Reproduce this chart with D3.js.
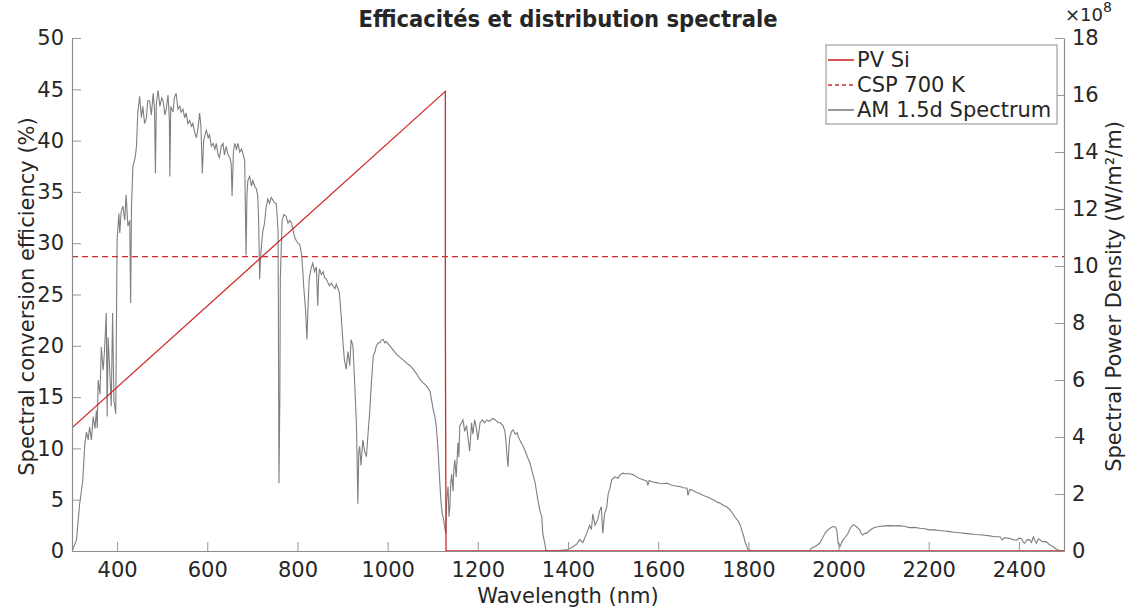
<!DOCTYPE html>
<html><head><meta charset="utf-8">
<script src="https://cdn.jsdelivr.net/npm/d3@7"></script>
<style>
html,body{margin:0;padding:0;background:#fff;}
text{font-family:"DejaVu Sans",sans-serif;fill:#262626;}
</style></head>
<body><svg id="c" width="1129" height="610"></svg>
<script>
// ---- data ----
const title = "Efficacités et distribution spectrale";
const xLabel = "Wavelength (nm)";
const yLeftLabel = "Spectral conversion efficiency (%)";
const yRightLabel = "Spectral Power Density (W/m²/m)";
const legendLabels = ["PV Si", "CSP 700 K", "AM 1.5d Spectrum"];
const xTicks = [400,600,800,1000,1200,1400,1600,1800,2000,2200,2400];
const yLeftTicks = [0,5,10,15,20,25,30,35,40,45,50];
const yRightTicks = [0,2,4,6,8,10,12,14,16,18];

// PV Si efficiency (%)
const pvWl  = [300, 1128, 1128, 1129.5, 2500];
const pvEff = [12, 44.8, 22.3, 0, 0];
// CSP 700 K efficiency (%)
const cspWl  = [300, 2500];
const cspEff = [28.7, 28.7];

// AM 1.5d spectrum, units of 1e8 W/m^2/m
const specWl = [300,310,317,324,328,332,336,339,343,347,351,354,356,358,362,365,369,372,376,378,380,383,387,390,393,397,
400,404,406,409,413,417,420,424,428,430,432,435,440,443,446,450,454,457,461,465,468,472,476,480,483,485,487,491,495,499,
502,506,509,513,516,517,519,524,527,531,535,539,542,546,550,553,557,561,565,568,572,576,580,583,586,589,592,595,598,
602,605,609,613,617,620,624,627,631,635,638,642,646,650,653,655,658,661,665,668,672,676,680,683,686,688,690,694,698,
701,705,709,712,714,716,719,723,727,730,734,738,742,746,750,753,757,759,761,762,766,770,775,779,783,787,790,794,797,
801,805,809,812,814,818,821,824,826,830,834,838,842,845,847,849,853,857,860,864,868,871,875,879,883,886,890,893,897,
901,904,908,912,916,919,923,927,931,934,936,938,941,945,949,953,956,960,964,968,972,975,979,983,986,990,994,997,
1005,1012,1020,1027,1035,1042,1050,1057,1065,1072,1079,1086,1094,1101,1105,1108,1112,1115,1118,1121,1123,1126,1129,
1131,1134,1136,1138,1140,1142,1145,1147,1149,1152,1156,1158,1160,1164,1167,1171,1175,1178,1182,1186,1189,1193,1197,
1200,1205,1210,1215,1220,1226,1233,1239,1245,1250,1256,1260,1262,1265,1267,1269,1271,1275,1278,1283,1287,1290,1293,
1298,1304,1310,1316,1322,1327,1333,1338,1342,1344,1348,1351,1356,1380,1400,1411,1420,1426,1433,1441,1448,1452,1455,
1460,1466,1470,1474,1477,1481,1486,1489,1493,1497,1504,1511,1516,1522,1528,1533,1539,1544,1550,1559,1567,1575,1577,
1580,1588,1596,1604,1611,1619,1626,1633,1640,1648,1656,1664,1666,1670,1677,1685,1692,1700,1708,1715,1722,1730,1737,
1745,1752,1759,1766,1772,1777,1782,1786,1790,1792,1796,1799,1805,1810,1900,1936,1940,1947,1952,1958,1964,1970,1975,
1981,1988,1993,1996,1999,2003,2007,2010,2016,2021,2026,2032,2036,2039,2043,2047,2050,2054,2058,2062,2069,2076,2084,
2091,2102,2113,2124,2135,2147,2158,2169,2180,2191,2202,2213,2224,2235,2246,2257,2269,2280,2291,2302,2313,2324,2335,
2347,2358,2363,2369,2380,2387,2395,2400,2406,2410,2413,2418,2424,2428,2432,2436,2439,2443,2446,2452,2461,2468,2476,
2483,2487,2494,2500];
const specVal = [0,0.39,1.66,2.48,3.67,4.18,3.9,4.36,3.9,4.72,4.3,4.93,4.32,6.0,5.5,7.16,6.34,7.0,8.35,4.72,7.5,6.59,5.08,8.35,5.29,4.82,
10.9,11.84,11.16,11.9,12.1,11.6,12.5,11.4,11.6,8.7,12.1,13.5,13.8,14.2,15.4,15.95,15.2,15.6,15.0,15.2,15.8,15.8,15.3,16.06,15.5,13.25,15.7,16.16,15.6,15.9,
15.8,15.3,15.5,16.0,15.1,13.14,15.6,15.4,15.9,16.06,15.5,15.6,15.4,15.5,15.2,15.37,15.0,15.1,14.9,15.0,14.7,14.5,14.9,15.37,14.9,13.25,14.4,14.6,14.76,
14.5,14.6,14.2,14.3,14.1,14.3,13.9,13.8,14.2,14.3,13.9,14.2,13.9,13.8,13.6,12.46,14.0,14.3,14.1,14.3,14.0,14.1,13.9,13.7,10.37,12.5,13.0,13.14,12.8,
13.0,12.8,12.7,12.46,11.6,9.54,10.5,11.2,11.5,12.0,12.35,12.2,12.4,12.3,12.2,12.2,11.27,2.38,5.5,9.54,11.6,11.8,11.74,11.5,11.6,11.5,11.27,11.0,10.9,
10.8,10.76,10.44,9.8,9.25,8.46,7.42,8.8,9.54,9.9,10.1,9.8,9.97,8.6,9.6,9.9,9.7,9.8,9.6,9.54,9.4,9.3,9.4,9.3,9.2,9.36,9.2,9.07,8.24,
7.31,6.73,6.37,7.0,6.5,7.42,7.2,5.87,4.36,1.66,3.5,3.67,3.0,3.9,3.5,3.31,4.0,4.82,5.9,6.84,7.0,7.2,7.3,7.31,7.4,7.42,7.3,7.35,
7.2,7.06,6.9,6.8,6.7,6.59,6.5,6.37,6.2,6.01,5.9,5.8,5.6,4.97,4.7,4.36,3.5,2.6,1.8,1.3,1.2,0.9,0.6,
1.8,2.26,1.2,1.55,2.4,2.7,2.1,2.9,3.2,2.6,3.8,3.3,4.4,4.5,4.6,4.2,4.4,4.0,3.5,4.5,4.1,4.6,4.3,
3.9,4.5,4.6,4.5,4.6,4.55,4.65,4.6,4.5,4.5,4.4,4.2,3.9,3.3,2.96,3.6,4.0,4.2,4.25,4.1,4.15,4.0,3.9,
3.75,3.55,3.3,3.07,2.7,2.4,1.8,1.4,1.2,0.62,0.3,0.04,0,0.02,0.05,0.15,0.25,0.4,0.3,0.6,0.9,0.75,1.3,
0.9,1.1,1.4,1.55,0.62,1.3,1.55,2.0,2.2,2.5,2.6,2.55,2.68,2.73,2.7,2.72,2.7,2.68,2.62,2.54,2.5,2.45,2.3,
2.47,2.42,2.4,2.37,2.36,2.38,2.33,2.3,2.28,2.26,2.22,2.2,1.95,2.15,2.13,2.05,2.02,1.95,1.9,1.85,1.8,1.72,1.68,
1.6,1.55,1.45,1.3,1.15,1.07,0.9,0.7,0.5,0.35,0.18,0.06,0.02,0,0,0,0.1,0.15,0.2,0.27,0.45,0.62,0.72,
0.8,0.86,0.84,0.75,0.27,0.15,0.3,0.39,0.5,0.62,0.8,0.92,0.9,0.86,0.8,0.74,0.62,0.56,0.62,0.62,0.72,0.8,0.84,
0.86,0.88,0.89,0.88,0.89,0.86,0.82,0.83,0.8,0.78,0.74,0.74,0.72,0.7,0.68,0.66,0.64,0.62,0.6,0.58,0.57,0.55,0.53,
0.5,0.5,0.39,0.47,0.44,0.4,0.38,0.45,0.43,0.3,0.27,0.4,0.39,0.3,0.5,0.35,0.27,0.42,0.4,0.33,0.32,0.22,0.15,
0.06,0.03,0,0];

// ---- layout ----
const W = 1129, H = 610;
const L = 72, R = 1064, T = 38, B = 551;
const axisCol = "#8c8c8c";
const red = "#d12b2b";
const gray = "#7f7f7f";
const fs = 21;

const svg = d3.select("#c");
svg.append("rect").attr("width",W).attr("height",H).attr("fill","#fff");

const x = d3.scaleLinear().domain([300,2500]).range([L,R]);
const yL = d3.scaleLinear().domain([0,50]).range([B,T]);
const yR = d3.scaleLinear().domain([0,18]).range([B,T]);

svg.append("clipPath").attr("id","clip").append("rect")
  .attr("x",L).attr("y",T-2).attr("width",R-L).attr("height",B-T+4);
const g = svg.append("g").attr("clip-path","url(#clip)");

// spectrum
const spec = specWl.map((w,i)=>[w,specVal[i]]);
g.append("path").datum(spec)
  .attr("fill","none").attr("stroke",gray).attr("stroke-width",1.1)
  .attr("d", d3.line().x(d=>x(d[0])).y(d=>yR(d[1])));
// CSP
g.append("path").datum(cspWl.map((w,i)=>[w,cspEff[i]]))
  .attr("fill","none").attr("stroke",red).attr("stroke-width",1.3).attr("stroke-dasharray","6,4")
  .attr("d", d3.line().x(d=>x(d[0])).y(d=>yL(d[1])));
// PV
g.append("path").datum(pvWl.map((w,i)=>[w,pvEff[i]]))
  .attr("fill","none").attr("stroke",red).attr("stroke-width",1.3)
  .attr("d", d3.line().x(d=>x(d[0])).y(d=>yL(d[1])));

// axes
function styleAxis(sel){
  sel.select(".domain").attr("stroke",axisCol).attr("stroke-width",1.2);
  sel.selectAll(".tick line").attr("stroke",axisCol).attr("stroke-width",0.9);
  sel.selectAll(".tick text").style("font-size",fs+"px").style("font-family","DejaVu Sans").attr("fill","#262626");
}
const ax = svg.append("g").attr("transform",`translate(0,${B})`)
  .call(d3.axisBottom(x).tickValues(xTicks).tickFormat(d3.format("d")).tickSizeInner(-9).tickSizeOuter(0).tickPadding(11));
styleAxis(ax);
const al = svg.append("g").attr("transform",`translate(${L},0)`)
  .call(d3.axisLeft(yL).tickValues(yLeftTicks).tickSizeInner(-9).tickSizeOuter(0).tickPadding(8));
styleAxis(al);
const ar = svg.append("g").attr("transform",`translate(${R},0)`)
  .call(d3.axisRight(yR).tickValues(yRightTicks).tickSizeInner(-9).tickSizeOuter(0).tickPadding(8));
styleAxis(ar);

// multiplier
svg.append("text").attr("x",1065).attr("y",21).style("font-size","18px").text("×10");
svg.append("text").attr("x",1103).attr("y",12).style("font-size","14px").text("8");

// labels
svg.append("text").attr("x",568).attr("y",27).attr("text-anchor","middle")
  .style("font-size","23.5px").style("font-weight","bold")
  .style("font-family","'DejaVu Sans Condensed','DejaVu Sans'")
  .attr("fill","#000").text(title);
svg.append("text").attr("x",(L+R)/2).attr("y",603).attr("text-anchor","middle")
  .style("font-size",fs+"px").text(xLabel);
svg.append("text").attr("transform",`translate(34,${(T+B)/2 + 2}) rotate(-90)`).attr("text-anchor","middle")
  .style("font-size",fs+"px").text(yLeftLabel);
svg.append("text").attr("transform",`translate(1121,${(T+B)/2 + 2}) rotate(-90)`).attr("text-anchor","middle")
  .style("font-size",fs+"px").text(yRightLabel);

// legend
const lg = svg.append("g");
lg.append("rect").attr("x",826).attr("y",45).attr("width",231).attr("height",79)
  .attr("fill","#fff").attr("stroke","#8c8c8c").attr("stroke-width",1);
const legStyles = [{c:red,d:null},{c:red,d:"4,3"},{c:gray,d:null}];
legendLabels.forEach((t,i)=>{
  const yy = 60 + i*25;
  lg.append("line").attr("x1",828).attr("x2",854).attr("y1",yy).attr("y2",yy)
    .attr("stroke",legStyles[i].c).attr("stroke-width",1.6).attr("stroke-dasharray",legStyles[i].d);
  lg.append("text").attr("x",857).attr("y",yy+7).style("font-size",fs+"px").text(t);
});
</script></body></html>
